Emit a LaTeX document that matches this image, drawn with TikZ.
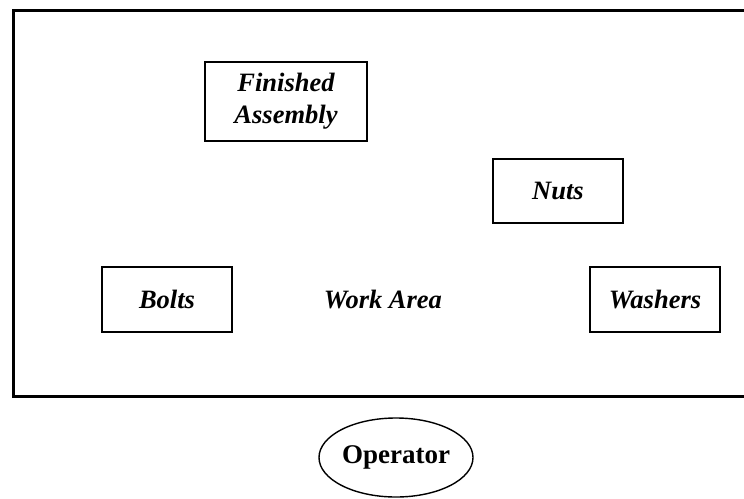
\documentclass[tikz,border=0pt]{standalone}
\usepackage{fontspec}
\setmainfont{Liberation Serif}
\usetikzlibrary{shapes.geometric}
\tikzset{
  itembox/.style={draw=black, line width=1.4pt, rectangle, inner sep=0pt, align=center,
    font=\fontsize{26.5}{32}\selectfont\bfseries\itshape},
  plainlabel/.style={inner sep=0pt, font=\fontsize{26.5}{32}\selectfont\bfseries\itshape},
  actor/.style={draw=black, line width=1.4pt, ellipse, inner sep=0pt,
    minimum width=154pt, minimum height=79pt, font=\fontsize{27}{32}\selectfont\bfseries}
}
\begin{document}
\begin{tikzpicture}[x=1pt,y=-1pt]
\useasboundingbox (0,0) rectangle (744,498);
\clip (0,0) rectangle (744,498);
\draw[line width=3pt] (13,10) rectangle (760,396);
\node[itembox, minimum width=162pt, minimum height=79pt] (fa) at (286,101.5) {Finished\\Assembly};
\node[itembox, minimum width=130pt, minimum height=64pt] (nuts) at (558,191) {Nuts};
\node[itembox, minimum width=130pt, minimum height=65pt] (washers) at (655,299.5) {Washers};
\node[itembox, minimum width=130pt, minimum height=65pt] (bolts) at (167,299.5) {Bolts};
\node[plainlabel] (work) at (383,300) {Work Area};
\node[actor] (op) at (396,457.5) {Operator};
\end{tikzpicture}
\end{document}
